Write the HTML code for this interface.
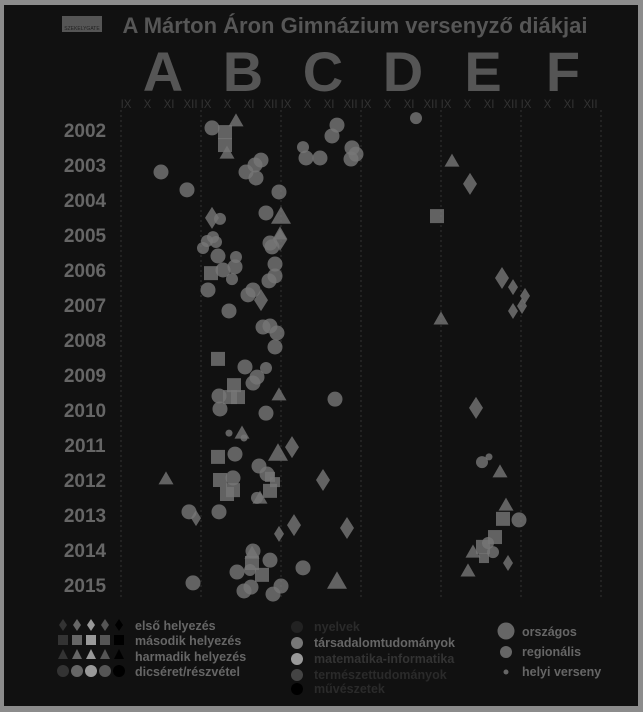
<!DOCTYPE html>
<html><head><meta charset="utf-8"><style>
html,body{margin:0;padding:0;background:#8c8c8c;}
body{width:643px;height:712px;position:relative;overflow:hidden;font-family:"Liberation Sans","DejaVu Sans",sans-serif;}
#frame{position:absolute;left:4px;top:5px;width:634px;height:701px;background:#111;}
svg{position:absolute;left:0;top:0;}
</style></head><body>
<div id="frame"></div>
<svg id="chart" width="643" height="712">
  <rect x="62" y="16" width="40" height="16" fill="#555"/>
  <text x="82" y="30" font-size="5" fill="#222" text-anchor="middle">SZEKELYGATE</text>
  <text x="355" y="33" font-size="22" font-weight="bold" fill="#565656" text-anchor="middle">A Márton Áron Gimnázium versenyző diákjai</text>
  <g id="cats"></g>
  <g id="grid"></g>
  <g id="years"></g>
  <g id="marks"></g>
  <g id="legend">
    <g>
      <g fill="#333"><path d="M63 619 l4 6 -4 6 -4 -6z"/><rect x="58" y="635" width="10" height="10"/><path d="M63 649 l5 10 h-10z"/><circle cx="63" cy="671" r="6"/></g>
      <g fill="#666"><path d="M77 619 l4 6 -4 6 -4 -6z"/><rect x="72" y="635" width="10" height="10"/><path d="M77 649 l5 10 h-10z"/><circle cx="77" cy="671" r="6"/></g>
      <g fill="#999"><path d="M91 619 l4 6 -4 6 -4 -6z"/><rect x="86" y="635" width="10" height="10"/><path d="M91 649 l5 10 h-10z"/><circle cx="91" cy="671" r="6"/></g>
      <g fill="#555"><path d="M105 619 l4 6 -4 6 -4 -6z"/><rect x="100" y="635" width="10" height="10"/><path d="M105 649 l5 10 h-10z"/><circle cx="105" cy="671" r="6"/></g>
      <g fill="#000"><path d="M119 619 l4 6 -4 6 -4 -6z"/><rect x="114" y="635" width="10" height="10"/><path d="M119 649 l5 10 h-10z"/><circle cx="119" cy="671" r="6"/></g>
      <g font-size="12.5" font-weight="bold" fill="#666">
        <text x="135" y="630">első helyezés</text>
        <text x="135" y="645">második helyezés</text>
        <text x="135" y="661">harmadik helyezés</text>
        <text x="135" y="676">dicséret/részvétel</text>
      </g>
    </g>
    <g font-size="12.5" font-weight="bold">
      <circle cx="297" cy="627" r="6" fill="#222"/><text x="314" y="631" fill="#2a2a2a">nyelvek</text>
      <circle cx="297" cy="643" r="6" fill="#777"/><text x="314" y="647" fill="#666">társadalomtudományok</text>
      <circle cx="297" cy="659" r="6" fill="#999"/><text x="314" y="663" fill="#333">matematika-informatika</text>
      <circle cx="297" cy="675" r="6" fill="#444"/><text x="314" y="679" fill="#2a2a2a">természettudományok</text>
      <circle cx="297" cy="689" r="6" fill="#000"/><text x="314" y="693" fill="#2a2a2a">művészetek</text>
    </g>
    <g font-size="12.5" font-weight="bold" fill="#666">
      <circle cx="506" cy="631" r="8.5" fill="#666"/><text x="522" y="636">országos</text>
      <circle cx="506" cy="652" r="6" fill="#666"/><text x="522" y="656">regionális</text>
      <circle cx="506" cy="672" r="2.5" fill="#666"/><text x="522" y="676">helyi verseny</text>
    </g>
  </g>
</svg>
<script>
const categories = ["A","B","C","D","E","F"];
const monthLabels = ["IX","X","XI","XII"];
const yearLabels = [2002,2003,2004,2005,2006,2007,2008,2009,2010,2011,2012,2013,2014,2015];
// x: month index across all categories (4 per category), y: year
const xs = [4.55,5.75,5.2,5.2,5.3,2.0,3.3,6.25,6.7,7.0,6.75,7.9,7.25,8.0,7.95,7.95,4.55,4.95,4.6,4.75,4.3,4.1,7.45,7.55,4.85,5.75,5.7,5.1,5.55,4.5,7.7,7.7,7.4,4.35,6.35,6.6,7.0,5.4,7.1,7.45,7.8,7.7,10.8,10.55,9.1,9.25,9.95,11.55,11.75,11.5,4.85,6.2,7.25,6.8,6.6,5.65,4.9,5.45,5.85,4.95,7.9,7.25,10.7,5.4,6.05,6.15,4.85,5.7,7.85,8.55,6.9,7.3,7.45,7.7,2.25,4.95,5.6,5.6,5.3,7.45,6.95,6.8,10.1,3.4,3.75,4.9,8.65,7.9,11.3,6.6,6.55,6.55,7.45,9.1,5.8,6.45,7.05,3.6,10.8,6.15,6.5,7.6,8.0,14.75,16.55,17.45,15.8,19.05,19.6,20.2,20.05,19.6,16.0,17.75,18.05,18.4,18.95,19.25,19.1,19.9,18.7,18.35,18.1,18.6,18.15,17.6,17.35,19.35];
const ys = [2001.94,2001.71,2002.06,2002.43,2002.63,2003.2,2003.71,2003.2,2003.0,2002.86,2003.37,2003.77,2004.37,2004.43,2004.94,2005.14,2004.51,2004.54,2005.06,2005.2,2005.17,2005.37,2005.23,2005.34,2005.6,2005.63,2005.91,2006.0,2006.26,2006.09,2005.83,2006.17,2006.31,2006.57,2006.71,2006.57,2006.86,2007.17,2007.63,2007.6,2007.8,2008.2,2001.86,2002.17,2002.49,2002.8,2002.8,2002.51,2002.69,2002.83,2008.54,2008.77,2008.8,2009.06,2009.23,2009.29,2009.6,2009.63,2009.63,2009.97,2009.54,2010.09,2009.69,2010.66,2010.63,2010.8,2011.34,2011.26,2011.2,2011.06,2011.6,2011.83,2011.91,2012.06,2011.94,2012.0,2011.94,2012.29,2012.4,2012.31,2012.49,2012.51,2012.0,2012.91,2013.09,2012.91,2013.29,2013.54,2013.37,2014.03,2014.06,2014.37,2014.29,2014.51,2014.63,2014.57,2014.71,2014.94,2014.86,2015.17,2015.06,2015.26,2015.03,2001.66,2002.86,2003.54,2004.46,2006.23,2006.49,2006.74,2007.03,2007.17,2007.37,2009.94,2011.49,2011.34,2011.74,2012.69,2013.11,2013.14,2013.63,2013.8,2013.91,2014.06,2014.23,2014.03,2014.57,2014.37];
const shapes = ["c","t","s","s","t","c","c","c","c","c","c","c","c","t","t","d","d","c","c","c","c","c","c","c","c","c","c","c","c","s","c","c","c","c","c","c","d","c","c","c","c","c","c","c","c","c","c","c","c","c","s","c","c","c","c","s","c","s","s","c","t","c","c","c","t","c","s","c","t","d","c","c","s","s","t","s","c","s","s","s","t","c","d","c","d","c","d","d","d","c","t","s","c","c","c","c","s","c","t","c","c","c","c","c","t","d","s","d","d","d","d","d","t","d","c","c","t","t","s","c","s","c","s","c","s","t","t","d"];
const sizes = [2,2,2,2,2,2,2,2,2,2,2,2,2,3,2,2,2,1,1,1,1,1,2,2,2,1,2,2,1,2,2,2,2,2,2,2,2,2,2,2,2,2,2,2,1,2,2,2,2,2,2,2,1,2,2,2,2,2,2,2,2,2,2,0,2,0,2,2,3,2,2,2,1,1,2,2,2,2,2,2,2,1,2,2,1,2,2,1,2,2,2,2,2,2,2,1,2,2,3,2,2,2,2,1,2,2,2,2,1,1,1,1,2,2,1,0,2,2,2,2,2,1,2,1,1,2,2,1];
const NS="http://www.w3.org/2000/svg";
const x0=121, colW=80, y0=130, rowH=35;
function xScale(m){return x0+m*(colW/4);}
function yScale(y){return y0+(y-2002)*rowH;}
function mk(tag,attrs,parent){const e=document.createElementNS(NS,tag);for(const k in attrs)e.setAttribute(k,attrs[k]);parent.appendChild(e);return e;}
const cats=document.getElementById('cats'), grid=document.getElementById('grid'), yrs=document.getElementById('years'), marks=document.getElementById('marks');
categories.forEach((c,i)=>{
  const t=mk('text',{x:x0+i*colW+42,y:91,'font-size':56,'font-weight':'bold',fill:'#555','text-anchor':'middle'},cats);
  t.textContent=c;
  
  
  monthLabels.forEach((m,j)=>{
    const mt=mk('text',{x:x0+i*colW+5+j*21.5,y:108,'font-size':11.5,fill:'#333','text-anchor':'middle'},cats);
    mt.textContent=m;
    
    
  });
});
for(let i=0;i<=6;i++){
  const l=mk('line',{x1:x0+i*colW,x2:x0+i*colW,y1:110,y2:600,stroke:'#2e2e2e','stroke-width':1.2,'stroke-dasharray':'2,3'},grid);
  
  
}
yearLabels.forEach(y=>{
  const t=mk('text',{x:85,y:yScale(y)+7,'font-size':19,'font-weight':'bold',fill:'#666','text-anchor':'middle'},yrs);
  t.textContent=y;
  
  
});
const circR=[3.5,6,7.5,10], sq=[8,10,14,16], tri=[10,12,15,20], dia=[[8,14],[10,16],[14,22],[16,26]];
const st={fill:'#777','fill-opacity':0.8};
for(let i=0;i<xs.length;i++){
  const cx=xScale(xs[i]), cy=yScale(ys[i]), s=sizes[i], sh=shapes[i];
  let e;
  if(sh==='c'){e=mk('circle',Object.assign({cx:cx,cy:cy,r:circR[s]},st),marks);}
  else if(sh==='s'){const a=sq[s];e=mk('rect',Object.assign({x:cx-a/2,y:cy-a/2,width:a,height:a},st),marks);}
  else if(sh==='t'){const w=tri[s],h=w*0.87;e=mk('path',Object.assign({d:`M${cx} ${cy-h/2} L${cx+w/2} ${cy+h/2} L${cx-w/2} ${cy+h/2}Z`},st),marks);}
  else {const [w,h]=dia[s];e=mk('path',Object.assign({d:`M${cx} ${cy-h/2} L${cx+w/2} ${cy} L${cx} ${cy+h/2} L${cx-w/2} ${cy}Z`},st),marks);}
  
  
}
</script>
</body></html>
